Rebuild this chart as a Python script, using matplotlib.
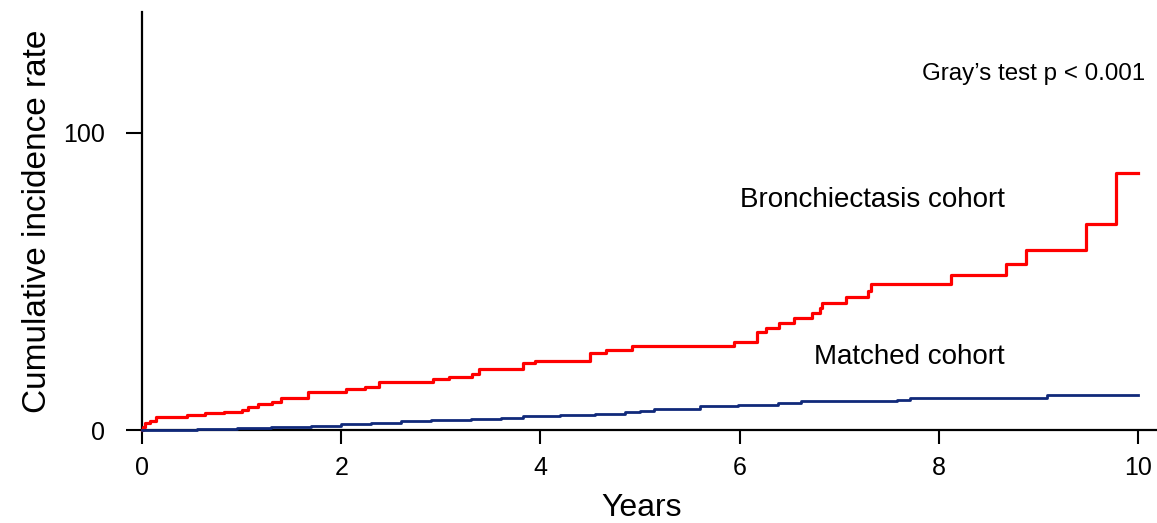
import matplotlib
matplotlib.use("Agg")
import matplotlib.pyplot as plt

# step curves (years, cumulative incidence)
bronch_t = [0, 0.01, 0.03, 0.08, 0.145, 0.455, 0.63, 0.82, 1.0, 1.06, 1.16, 1.31, 1.40, 1.67,
            2.05, 2.24, 2.38, 2.92, 3.08, 3.31, 3.38, 3.83, 3.95, 4.50, 4.66, 4.92, 5.94,
            6.17, 6.26, 6.40, 6.55, 6.73, 6.81, 6.83, 7.07, 7.29, 7.32, 8.12, 8.67, 8.87,
            9.48, 9.78, 10.0]
bronch_v = [0, 1.0, 2.2, 3.0, 4.3, 5.0, 5.6, 6.2, 6.7, 7.8, 8.6, 9.3, 10.7, 12.9,
            13.8, 14.6, 16.3, 17.1, 18.0, 18.7, 20.5, 22.4, 23.3, 25.8, 26.9, 28.4, 29.6,
            32.9, 34.2, 35.9, 37.6, 39.3, 41.0, 42.9, 44.9, 46.9, 49.2, 52.2, 55.9, 60.6,
            69.4, 86.4, 86.4]

matched_t = [0, 0.55, 0.95, 1.3, 1.7, 2.0, 2.3, 2.6, 2.9, 3.3, 3.6, 3.83, 4.2, 4.55, 4.85,
             5.0, 5.14, 5.6, 5.98, 6.39, 6.62, 7.58, 7.71, 9.09, 10.0]
matched_v = [0, 0.5, 0.8, 1.1, 1.4, 1.9, 2.5, 2.9, 3.3, 3.7, 4.0, 4.7, 5.2, 5.5, 5.9,
             6.3, 7.0, 8.0, 8.5, 9.2, 9.6, 10.1, 10.8, 11.7, 11.7]

x_ticks = [0, 2, 4, 6, 8, 10]
y_ticks = [0, 100]

fam = ['Liberation Sans', 'DejaVu Sans']

fig = plt.figure(figsize=(11.57, 5.23), dpi=100)
ax = fig.add_axes([0.12273, 0.17782, 0.87727, 0.79924])

ax.step(bronch_t, bronch_v, where='post', color='#ff0000', lw=2.3, clip_on=False, zorder=3)
ax.step(matched_t, matched_v, where='post', color='#10297a', lw=2.0, clip_on=False, zorder=3)

ax.set_xlim(0, 10.19)
ax.set_ylim(0, 140.7)

for s in ['top', 'right']:
    ax.spines[s].set_visible(False)
for s in ['left', 'bottom']:
    ax.spines[s].set_linewidth(1.6)
    ax.spines[s].set_color('black')

ax.set_xticks(x_ticks)
ax.set_yticks(y_ticks)
ax.set_xticklabels([str(v) for v in x_ticks], family=fam, fontsize=18)
ax.set_yticklabels([str(v) for v in y_ticks], family=fam, fontsize=18)
ax.tick_params(axis='x', length=10, width=1.5, pad=9)
ax.tick_params(axis='y', length=11.5, width=1.5, pad=15)

ax.set_xlabel('Years', family=fam, fontsize=23)
ax.set_ylabel('Cumulative incidence rate', family=fam, fontsize=24)
ax.xaxis.set_label_coords(0.4926, -0.15)
ax.yaxis.set_label_coords(-0.088, 0.5)

ax.text(8.66, 77.4, 'Bronchiectasis cohort', ha='right', va='center',
        family=fam, fontsize=20)
ax.text(8.66, 24.6, 'Matched cohort', ha='right', va='center',
        family=fam, fontsize=20)
ax.text(10.07, 119.9, 'Gray\u2019s test p < 0.001', ha='right', va='center',
        family=fam, fontsize=17.4)

fig.savefig('out.png', dpi=100)
